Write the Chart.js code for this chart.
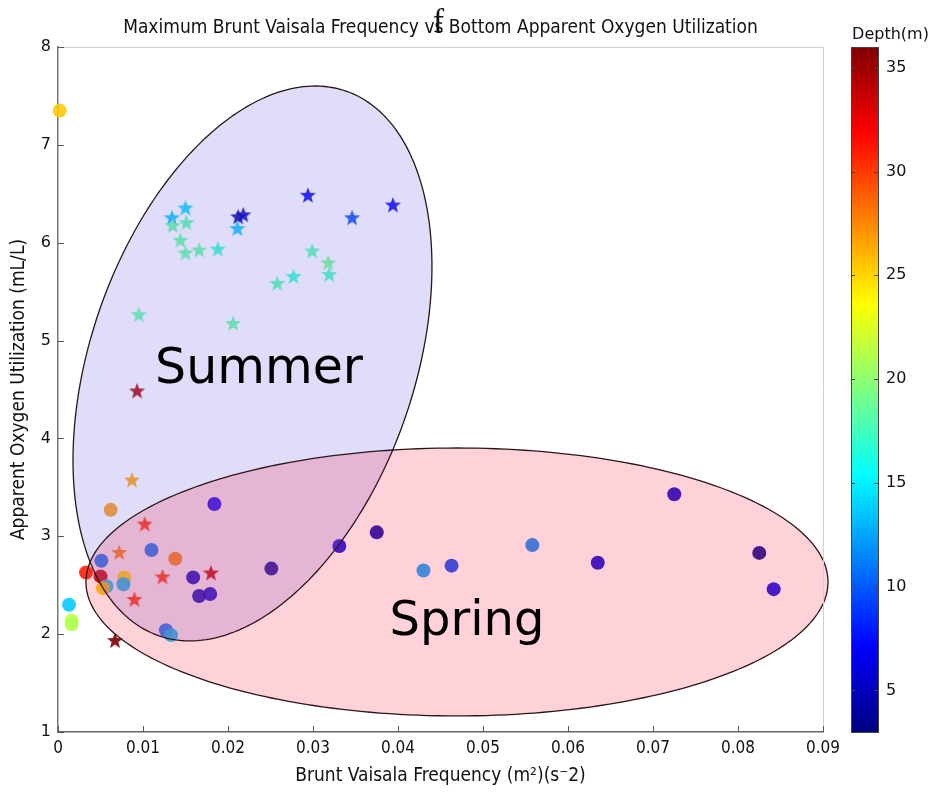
<!DOCTYPE html>
<html lang="en">
<head>
<meta charset="UTF-8">
<title>Maximum Brunt Vaisala Frequency vs Bottom Apparent Oxygen Utilization</title>
<script src="https://cdn.jsdelivr.net/npm/chart.js"></script>
<style>
  html, body { margin: 0; padding: 0; background: #fff; }
  canvas { display: block; }
</style>
</head>
<body>
<canvas id="aouChart" width="934" height="792"></canvas>
<script>
// summer casts (stars)
const summerFreq = [0.0134, 0.0150, 0.0135, 0.0151, 0.0144, 0.0150, 0.0166, 0.0188, 0.0212, 0.0218,
                    0.0211, 0.0294, 0.0346, 0.0394, 0.0299, 0.0318, 0.0319, 0.0277, 0.0258, 0.0095,
                    0.0206, 0.0093, 0.0087, 0.0102, 0.0072, 0.0123, 0.0180, 0.0090, 0.0067];
const summerAou = [6.26, 6.36, 6.18, 6.21, 6.03, 5.90, 5.93, 5.94, 6.27, 6.29,
                   6.15, 6.49, 6.26, 6.39, 5.92, 5.80, 5.68, 5.66, 5.59, 5.27,
                   5.18, 4.49, 3.58, 3.13, 2.84, 2.59, 2.63, 2.36, 1.94];
const summerDepth = [13.5, 14, 18.5, 18, 18.5, 18.5, 18.5, 17, 4, 5,
                     13.5, 6.5, 9.5, 6.5, 18, 19, 17.5, 17, 18, 18.5,
                     18.5, 34.5, 26.5, 30, 27.5, 30, 33.5, 30, 36];

// spring casts (circles)
const springFreq = [0.0002, 0.0062, 0.0184, 0.0110, 0.0138, 0.0051, 0.0033, 0.0050, 0.0078, 0.0077,
                    0.0057, 0.0053, 0.0159, 0.0251, 0.0166, 0.0179, 0.0013, 0.0016, 0.0016, 0.0127,
                    0.0133, 0.0331, 0.0375, 0.0430, 0.0463, 0.0558, 0.0635, 0.0725, 0.0825, 0.0842];
const springAou = [7.35, 3.27, 3.33, 2.86, 2.77, 2.75, 2.63, 2.59, 2.58, 2.51,
                   2.49, 2.47, 2.58, 2.67, 2.39, 2.41, 2.30, 2.14, 2.10, 2.04,
                   1.99, 2.90, 3.04, 2.65, 2.70, 2.91, 2.73, 3.43, 2.83, 2.46];
const springDepth = [25.4, 27, 7, 11, 27.5, 11, 31, 34, 24.5, 13.5,
                     14, 25.5, 5.3, 3.8, 5, 5.5, 13.6, 21.5, 21, 11,
                     13.5, 6.5, 4.5, 12.2, 9.3, 11.4, 6, 5.5, 3.5, 6.5];

const xTicks = [0, 0.01, 0.02, 0.03, 0.04, 0.05, 0.06, 0.07, 0.08, 0.09];
const yTicks = [1, 2, 3, 4, 5, 6, 7, 8];
const depthTicks = [5, 10, 15, 20, 25, 30, 35];
const depthRange = [3, 36];

// season ellipses: centre x, centre y, then two semi-axis vectors (data units)
const summerEllipse = [0.02288, 4.766, 0.01099, 2.784, 0.01803, -0.537];
const springEllipse = [0.04694, 2.533, 0.04365, 0, 0, 1.369];
const seasonNames = ['Summer', 'Spring'];
const seasonNameX = [0.02365, 0.04812];
const seasonNameY = [4.563, 1.991];

const narrow = '"DejaVu Sans Condensed", "Liberation Sans Narrow", "DejaVu Sans", sans-serif';
const wide = '"DejaVu Sans", sans-serif';

// matlab style jet colormap
function jet(d) {
    const t = Math.min(1, Math.max(0, (d - depthRange[0]) / (depthRange[1] - depthRange[0])));
    const c = v => Math.round(255 * Math.min(1, Math.max(0, v)));
    return [c(Math.min(4 * t - 1.5, -4 * t + 4.5)),
            c(Math.min(4 * t - 0.5, -4 * t + 3.5)),
            c(Math.min(4 * t + 0.5, -4 * t + 2.5))];
}

function starImage(rgb) {
    const R = 8.5, size = 20;
    const cv = document.createElement('canvas');
    cv.width = cv.height = size;
    const g = cv.getContext('2d');
    g.beginPath();
    for (let i = 0; i < 10; i++) {
        const r = i % 2 ? R * 0.42 : R;
        const a = -Math.PI / 2 + i * Math.PI / 5;
        g.lineTo(size / 2 + r * Math.cos(a), size / 2 + 1 + r * Math.sin(a));
    }
    g.closePath();
    g.fillStyle = 'rgba(' + rgb.join(',') + ',0.9)';
    g.fill();
    return cv;
}

function traceEllipse(ctx, xs, ys, e) {
    ctx.beginPath();
    for (let k = 0; k <= 240; k++) {
        const t = k / 240 * 2 * Math.PI;
        const dx = e[0] + e[2] * Math.cos(t) + e[4] * Math.sin(t);
        const dy = e[1] + e[3] * Math.cos(t) + e[5] * Math.sin(t);
        ctx.lineTo(xs.getPixelForValue(dx), ys.getPixelForValue(dy));
    }
    ctx.closePath();
}

// no extra label padding round the plot area
function noPad(s) {
    s.paddingTop = 0; s.paddingBottom = 0;
    s.paddingLeft = 0; s.paddingRight = 0;
}

const seasonPlugin = {
    id: 'seasons',
    afterDatasetsDraw(chart) {
        const { ctx, scales: { x, y } } = chart;
        ctx.save();
        traceEllipse(ctx, x, y, summerEllipse);
        ctx.fillStyle = 'rgba(110,100,230,0.22)';
        ctx.fill();
        traceEllipse(ctx, x, y, springEllipse);
        ctx.fillStyle = 'rgba(255,0,40,0.18)';
        ctx.fill();
        ctx.strokeStyle = '#2a1616';
        ctx.lineWidth = 1.3;
        traceEllipse(ctx, x, y, summerEllipse);
        ctx.stroke();
        traceEllipse(ctx, x, y, springEllipse);
        ctx.stroke();

        ctx.fillStyle = '#000';
        ctx.textAlign = 'center';
        ctx.textBaseline = 'alphabetic';
        ctx.font = '49px ' + wide;
        ctx.fillText(seasonNames[0], x.getPixelForValue(seasonNameX[0]), y.getPixelForValue(seasonNameY[0]));
        ctx.font = '48px ' + wide;
        ctx.fillText(seasonNames[1], x.getPixelForValue(seasonNameX[1]), y.getPixelForValue(seasonNameY[1]));
        ctx.restore();
    },
    afterDraw(chart) {
        const { ctx, chartArea: a, scales: { x, y, depth } } = chart;
        ctx.save();

        // box: light top/right edges, inward ticks
        ctx.strokeStyle = '#cfcfcf';
        ctx.lineWidth = 1;
        ctx.beginPath();
        ctx.moveTo(a.left, a.top + 0.5);
        ctx.lineTo(a.right + 0.5, a.top + 0.5);
        ctx.lineTo(a.right + 0.5, a.bottom);
        ctx.stroke();
        ctx.strokeStyle = '#555';
        ctx.beginPath();
        xTicks.forEach(v => {
            const px = Math.round(x.getPixelForValue(v)) + 0.5;
            ctx.moveTo(px, a.bottom);
            ctx.lineTo(px, a.bottom - 6);
        });
        yTicks.forEach(v => {
            const py = Math.round(y.getPixelForValue(v)) + 0.5;
            ctx.moveTo(a.left, py);
            ctx.lineTo(a.left + 6, py);
        });
        ctx.stroke();

        // title
        ctx.fillStyle = '#111';
        ctx.textAlign = 'center';
        ctx.textBaseline = 'alphabetic';
        const tx = (a.left + a.right) / 2;
        ctx.font = '19px ' + narrow;
        ctx.fillText('Maximum Brunt Vaisala Frequency vs Bottom Apparent Oxygen Utilization', tx, 33);
        ctx.font = '34px "Liberation Serif", "DejaVu Serif", serif';
        ctx.fillText('f', tx - 2, 32);

        // colour bar
        const bx0 = depth.left + 28, bx1 = depth.left + 55;
        const by0 = depth.getPixelForValue(depthRange[1]);
        const by1 = depth.getPixelForValue(depthRange[0]);
        const grad = ctx.createLinearGradient(0, by1, 0, by0);
        for (let k = 0; k <= 32; k++) {
            const d = depthRange[0] + (depthRange[1] - depthRange[0]) * k / 32;
            grad.addColorStop(k / 32, 'rgb(' + jet(d).join(',') + ')');
        }
        ctx.fillStyle = grad;
        ctx.fillRect(bx0, by0, bx1 - bx0, by1 - by0);
        ctx.strokeStyle = '#444';
        ctx.lineWidth = 1;
        ctx.strokeRect(bx0 + 0.5, by0 + 0.5, bx1 - bx0, by1 - by0);
        ctx.beginPath();
        depthTicks.forEach(v => {
            const py = Math.round(depth.getPixelForValue(v)) + 0.5;
            ctx.moveTo(bx0, py); ctx.lineTo(bx0 + 4, py);
            ctx.moveTo(bx1 - 4, py); ctx.lineTo(bx1, py);
        });
        ctx.stroke();
        ctx.fillStyle = '#111';
        ctx.font = '16px ' + wide;
        ctx.fillText('Depth(m)', (bx0 + bx1) / 2 + 26, 39);
        ctx.restore();
    }
};

const ctx = document.getElementById('aouChart').getContext('2d');
const aouChart = new Chart(ctx, {
    type: 'scatter',
    data: {
        datasets: [
            {
                label: 'Summer',
                data: summerFreq.map((f, i) => ({ x: f, y: summerAou[i] })),
                pointStyle: summerDepth.map(d => starImage(jet(d))),
                pointRadius: 8,
                clip: false
            },
            {
                label: 'Spring',
                data: springFreq.map((f, i) => ({ x: f, y: springAou[i] })),
                pointStyle: 'circle',
                pointRadius: 7,
                pointBorderWidth: 0,
                pointBackgroundColor: springDepth.map(d => 'rgba(' + jet(d).join(',') + ',0.88)'),
                clip: false
            }
        ]
    },
    options: {
        responsive: false,
        animation: false,
        layout: { padding: { top: 47, left: 0, right: 0, bottom: 0 } },
        plugins: {
            legend: { display: false },
            tooltip: { enabled: false },
            title: { display: false }
        },
        scales: {
            x: {
                type: 'linear',
                min: 0,
                max: 0.09,
                afterBuildTicks: s => { s.ticks = xTicks.map(v => ({ value: v })); },
                afterFit: s => { s.height = 60; noPad(s); },
                grid: { display: false, drawTicks: false },
                border: { display: true, color: '#666', width: 1.5 },
                ticks: {
                    autoSkip: false,
                    maxRotation: 0,
                    padding: 6,
                    color: '#111',
                    font: { family: narrow, size: 17 },
                    callback: v => v === 0 ? '0' : v.toFixed(2)
                },
                title: {
                    display: true,
                    text: 'Brunt Vaisala Frequency (m²)(s⁻2)',
                    color: '#111',
                    font: { family: narrow, size: 19 },
                    padding: { top: 0, bottom: 5 }
                }
            },
            y: {
                type: 'linear',
                min: 1,
                max: 8,
                afterBuildTicks: s => { s.ticks = yTicks.map(v => ({ value: v })); },
                afterFit: s => { s.width = 58; noPad(s); },
                grid: { display: false, drawTicks: false },
                border: { display: true, color: '#777', width: 1.5 },
                ticks: {
                    padding: 7,
                    color: '#111',
                    font: { family: wide, size: 16 }
                },
                title: {
                    display: true,
                    text: 'Apparent Oxygen Utilization (mL/L)',
                    color: '#111',
                    font: { family: narrow, size: 19 },
                    padding: { top: 8, bottom: 0 }
                }
            },
            depth: {
                type: 'linear',
                position: 'right',
                min: depthRange[0],
                max: depthRange[1],
                afterBuildTicks: s => { s.ticks = depthTicks.map(v => ({ value: v })); },
                afterFit: s => { s.width = 111; noPad(s); },
                grid: { display: false, drawTicks: false },
                border: { display: false },
                ticks: {
                    padding: 63,
                    color: '#111',
                    font: { family: wide, size: 16 }
                }
            }
        }
    },
    plugins: [seasonPlugin]
});
</script>
</body>
</html>
